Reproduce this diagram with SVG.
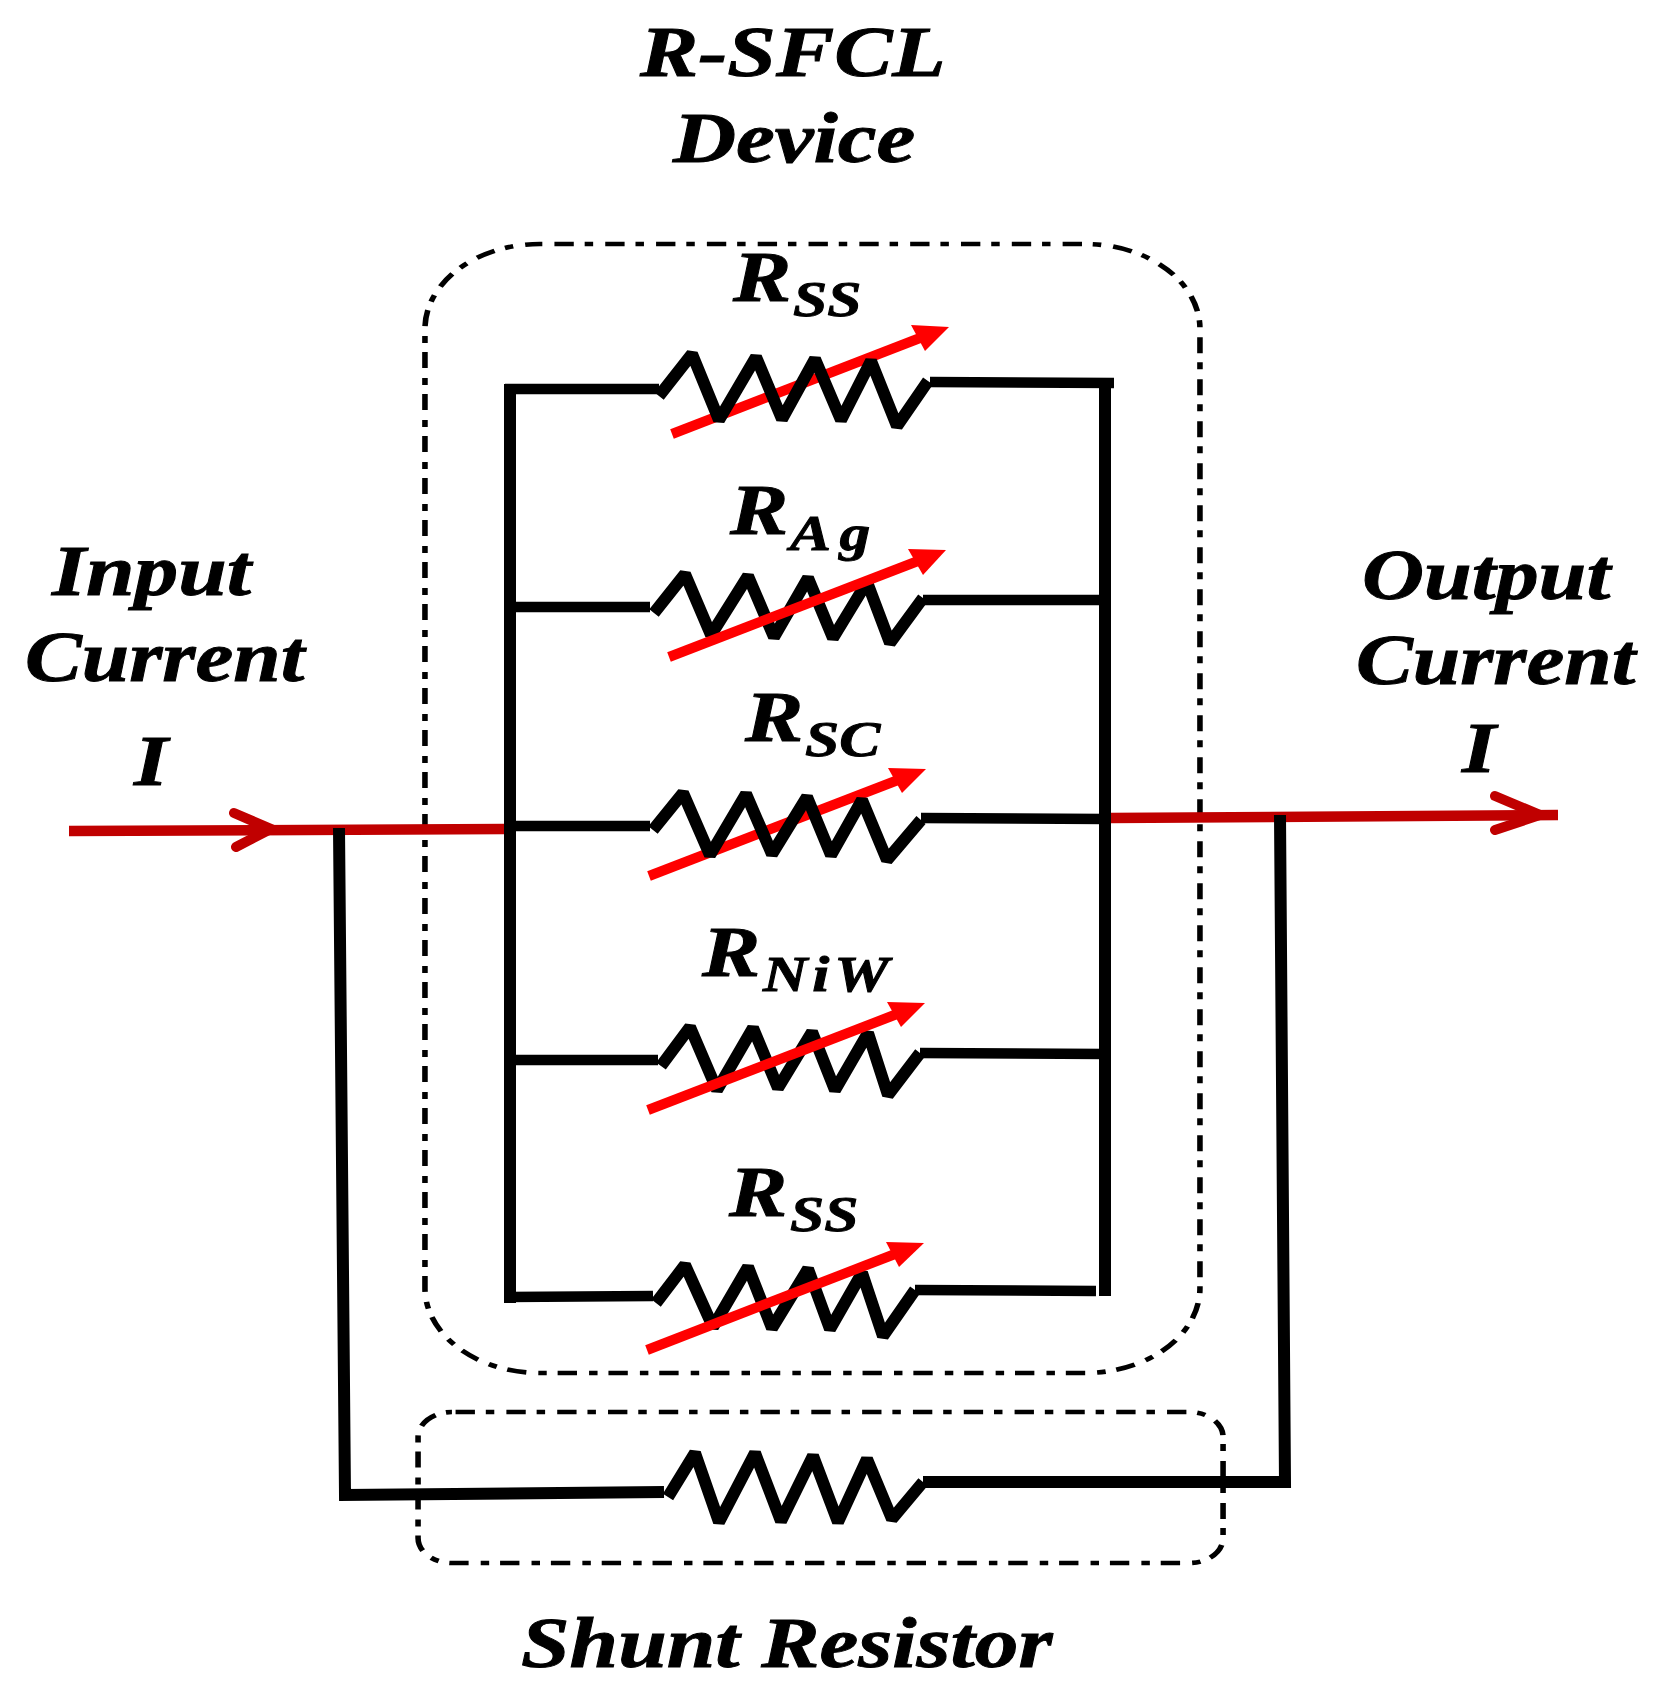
<svg xmlns="http://www.w3.org/2000/svg" width="1668" height="1688" viewBox="0 0 1668 1688">
<style>
text{font-family:"Liberation Serif","Times New Roman",serif;font-weight:bold;font-style:italic;fill:#000;stroke:#000;stroke-width:.9}
.lbl{font-size:71px}
.sub{font-size:50px}
.wire{fill:none;stroke:#000;stroke-width:10.5;stroke-linejoin:miter;stroke-linecap:butt}
.bus{fill:none;stroke:#000;stroke-width:12;stroke-linejoin:miter;stroke-linecap:butt}
.zig{fill:none;stroke:#000;stroke-width:12;stroke-linejoin:bevel;stroke-linecap:butt}
.var{stroke:#f00;stroke-width:10;fill:none}
.head{fill:#f00}
.cur{fill:none;stroke:#c00000;stroke-width:10.5;stroke-linecap:butt}
.barb{fill:none;stroke:#c00000;stroke-width:10;stroke-linecap:round;stroke-linejoin:miter}
.box{fill:none;stroke:#000;stroke-width:4.6;stroke-dasharray:16 9 7 10}
</style>
<rect width="1668" height="1688" fill="#fff"/>
<g id="device-box" transform="scale(1.21,1)"><rect class="box" x="351.2" y="244" width="640.5" height="1129" rx="95" ry="85" stroke-dashoffset="-12"/></g>
<g id="shunt-box" transform="scale(1.21,1)"><rect class="box" x="345.5" y="1412" width="665.3" height="151" rx="28" ry="25" stroke-dashoffset="-3"/></g>
<g id="connectors">
<path class="cur" d="M69 831L505 829"/>
<path class="barb" d="M234 813L271 829L236 847"/>
<path class="cur" d="M1110 818L1558 815"/>
<path class="barb" d="M1495 796L1540 815L1495 830"/>
<path class="bus" d="M510 1303V384"/>
<path class="bus" d="M1105 378V1296"/>
<path class="wire" d="M505 389H659"/>
<path class="wire" d="M930 382L1114 383"/>
<path class="wire" d="M510 607H650"/>
<path class="wire" d="M923 600H1105"/>
<path class="wire" d="M510 826H650"/>
<path class="wire" d="M921 818L1105 819"/>
<path class="wire" d="M510 1060H658"/>
<path class="wire" d="M920 1053L1105 1054"/>
<path class="wire" d="M505 1297L653 1296"/>
<path class="wire" d="M915 1290L1096 1291"/>
<path class="bus" d="M339 828L345 1495L664 1492"/>
<path class="bus" d="M1280 815L1285 1482H923"/>
</g>
<g id="label-title"><text class="lbl" transform="translate(640,76) scale(1.23,1)">R-SFCL</text><text class="lbl" transform="translate(673,162) scale(1.23,1)">Device</text></g>
<g id="r-ss-top">
<path class="var" d="M672 434L920 338"/><polygon class="head" points="911,325 949,327 925,351"/>
<polyline class="zig" points="659,396 692,354 719,420 756,357 782,419 815,359 841,420 871,361 897,426 928,381"/>
<text class="lbl" transform="translate(733,301) scale(1.23,1)">R</text><text class="sub" transform="translate(793,316) scale(1.23,1)">SS</text>
</g>
<g id="r-ag">
<polyline class="zig" points="654,613 685,574 711,635 748,576 774,637 808,578 833,638 867,582 890,643 923,598"/>
<path class="var" d="M669 657L918 561"/><polygon class="head" points="908,549 946,550 923,575"/>
<text class="lbl" transform="translate(730,534) scale(1.23,1)">R</text><text class="sub" transform="translate(790,550) scale(1.23,1)" letter-spacing="7">Ag</text>
</g>
<g id="r-sc">
<path class="var" d="M649 876L898 780"/><polygon class="head" points="888,768 926,769 902,793"/>
<polyline class="zig" points="653,830 683,793 710,855 746,794 772,854 807,797 831,855 862,800 887,860 921,820"/>
<text class="lbl" transform="translate(745,741) scale(1.23,1)">R</text><text class="sub" transform="translate(805,756) scale(1.23,1)">SC</text>
</g>
<g id="r-niw">
<polyline class="zig" points="661,1066 690,1027 717,1090 753,1028 778,1088 812,1032 835,1090 868,1033 888,1095 920,1053"/>
<path class="var" d="M648 1110L897 1014"/><polygon class="head" points="887,1002 925,1003 901,1027"/>
<text class="lbl" transform="translate(702,976) scale(1.23,1)">R</text><text class="sub" transform="translate(763,991) scale(1.23,1)" letter-spacing="4">NiW</text>
</g>
<g id="r-ss-bottom">
<polyline class="zig" points="656,1303 685,1265 713,1327 748,1267 772,1328 808,1269 830,1329 862,1273 883,1336 915,1290"/>
<path class="var" d="M647 1350L895 1254"/><polygon class="head" points="886,1242 924,1243 899,1267"/>
<text class="lbl" transform="translate(729,1216) scale(1.23,1)">R</text><text class="sub" transform="translate(790,1231) scale(1.23,1)">SS</text>
</g>
<g id="r-shunt">
<polyline class="zig" points="668,1497 695,1453 719,1522 755,1453 781,1521 813,1456 838,1522 867,1459 892,1519 923,1482"/>
<text class="lbl" transform="translate(521,1667) scale(1.23,1)">Shunt Resistor</text>
</g>
<g id="input"><text class="lbl" transform="translate(52,595) scale(1.23,1)">Input</text><text class="lbl" transform="translate(25,681) scale(1.2,1)">Current</text><text class="lbl" transform="translate(134,785) scale(1.23,1)">I</text></g>
<g id="output"><text class="lbl" transform="translate(1362,599) scale(1.21,1)">Output</text><text class="lbl" transform="translate(1356,684) scale(1.2,1)">Current</text><text class="lbl" transform="translate(1462,772) scale(1.23,1)">I</text></g>
</svg>
